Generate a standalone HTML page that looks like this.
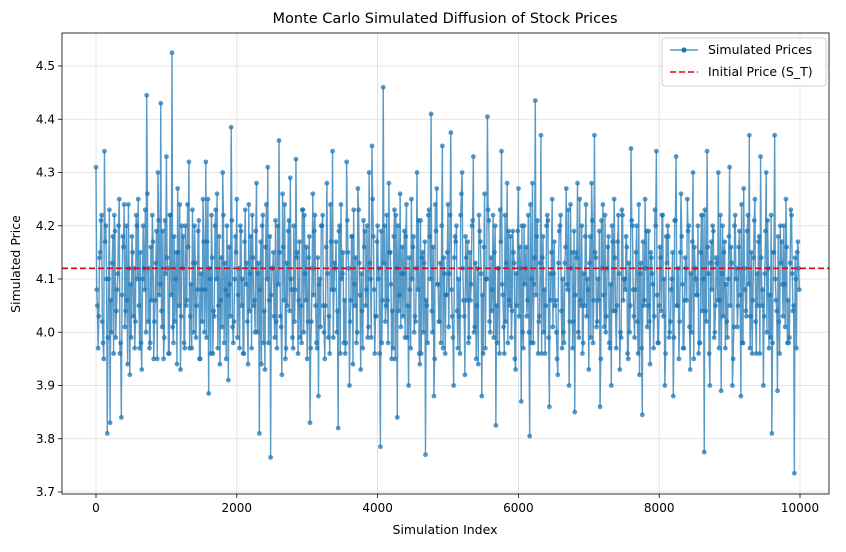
<!DOCTYPE html>
<html><head><meta charset="utf-8"><style>
body{margin:0;background:#fff;font-family:"Liberation Sans","DejaVu Sans",sans-serif;}
</style></head><body>
<svg id="chart" width="846" height="547" xmlns="http://www.w3.org/2000/svg" font-family="DejaVu Sans, Liberation Sans, sans-serif"></svg>
<script>
const categoriesStep = 10;
const seriesValuesA = [
4.31,4.03,4.22,4.34,3.81,3.83,4.18,3.99,4.2,3.84,4.24,4.06,3.92,4.15,4.02,4.25,3.98,4.12,4.445,3.97,4.22,4.06,4.3,4.43,3.95,
4.33,3.96,4.525,4.02,4.27,3.93,4.18,4.05,4.32,3.97,4.2,4.08,3.95,4.25,4.32,3.885,4.22,4.03,4.26,3.94,4.3,4.08,3.91,4.385,4.02,
4.25,3.97,4.1,4.23,3.94,4.18,4.05,4.28,3.81,4.2,3.93,4.31,3.765,4.15,4.02,4.36,3.92,4.24,4.05,4.29,3.97,4.325,4.06,3.98,4.22,
3.95,3.83,4.26,4.05,3.88,4.2,4.0,4.28,3.96,4.34,4.12,3.82,4.24,3.98,4.32,3.9,4.18,4.05,4.27,3.93,4.21,4.08,4.3,4.35,3.96,
4.2,3.785,4.46,4.05,4.28,3.95,4.23,3.84,4.26,4.03,4.18,3.9,4.25,4.0,4.3,3.94,4.15,3.77,4.22,4.41,3.88,4.27,4.02,4.35,3.96,
4.24,4.375,3.9,4.2,4.03,4.3,3.92,4.17,4.06,4.33,3.95,4.22,3.88,4.26,4.405,4.0,4.22,3.825,4.12,4.34,3.96,4.28,4.05,4.19,3.93,
4.27,3.87,4.2,4.03,3.805,4.28,4.435,3.96,4.37,4.0,4.2,3.86,4.25,4.05,3.92,4.22,4.0,4.27,3.9,4.15,3.85,4.28,4.06,3.98,4.24,
3.93,4.28,4.37,4.02,3.86,4.24,4.0,4.18,3.9,4.25,4.05,3.93,4.22,4.08,3.95,4.345,4.03,4.2,3.92,3.845,4.25,4.05,4.15,3.97,4.34,
4.05,4.22,3.9,4.2,4.02,3.88,4.33,3.95,4.18,4.06,4.25,3.93,4.3,4.1,3.96,4.22,3.775,4.34,3.9,4.2,4.05,4.3,3.89,4.15,4.02,
4.31,3.9,4.22,4.05,3.88,4.27,4.03,4.37,3.96,4.25,4.05,4.33,3.9,4.3,3.97,3.81,4.37,3.89,4.2,4.03,4.25,3.98,4.22,3.735,4.15
];
const seriesValuesB = [
4.05,4.15,3.98,4.2,4.1,4.0,4.22,4.08,3.96,4.18,4.04,4.24,3.99,4.12,4.2,3.97,4.1,4.23,4.02,4.16,3.95,4.19,4.07,4.01,4.21,
4.12,4.22,3.98,4.15,4.05,4.2,3.97,4.24,4.03,4.13,3.99,4.21,4.08,4.0,4.17,4.1,3.96,4.23,4.05,4.14,3.98,4.2,4.09,4.01,4.18,
4.07,4.19,3.96,4.13,4.04,4.22,4.0,4.11,4.17,3.98,4.24,4.06,4.12,3.99,4.2,4.03,4.16,3.97,4.21,4.08,4.02,4.15,3.99,4.23,4.06,
4.14,4.02,4.19,3.97,4.1,4.22,4.05,3.99,4.17,4.08,4.0,4.2,4.11,3.96,4.15,4.06,4.23,3.98,4.13,4.04,4.19,3.99,4.1,4.18,4.03,
4.12,3.98,4.2,4.06,4.15,3.97,4.22,4.04,4.11,4.19,3.99,4.08,4.16,4.02,4.21,3.96,4.13,4.05,4.18,4.0,4.24,4.09,3.98,4.14,4.07,
4.11,4.03,4.18,3.97,4.22,4.06,4.14,3.99,4.2,4.01,4.12,4.17,3.96,4.1,4.21,4.04,4.15,3.98,4.23,4.07,4.02,4.19,3.99,4.13,4.05,
4.16,4.0,4.12,4.22,3.98,4.09,4.18,4.03,4.14,3.96,4.21,4.06,4.11,4.0,4.19,3.97,4.13,4.08,4.24,4.02,4.15,3.99,4.2,4.05,4.1,
4.18,3.98,4.14,4.06,4.21,4.01,4.12,3.97,4.17,4.04,4.22,3.99,4.1,4.16,4.0,4.2,4.08,3.96,4.13,4.05,4.19,4.02,4.11,4.23,3.98,
4.14,4.03,4.18,3.99,4.1,4.21,4.05,4.15,3.97,4.12,4.2,4.0,4.16,4.07,3.98,4.22,4.04,4.11,4.17,3.99,4.13,4.06,4.2,3.97,4.1,
4.16,4.01,4.12,4.19,3.98,4.08,4.22,4.03,4.14,3.96,4.18,4.05,4.11,4.21,3.99,4.15,4.06,4.02,4.17,4.09,3.98,4.13,4.04,4.1,4.12
];
const seriesValuesC = [
4.08,3.97,4.14,4.21,4.02,3.95,4.17,4.1,3.99,4.23,4.06,4.13,3.96,4.19,4.04,4.11,4.25,3.98,4.07,4.16,4.01,4.2,3.94,4.12,4.09,
4.18,4.03,3.97,4.22,4.1,4.05,4.15,3.93,4.2,4.08,4.0,4.26,4.12,3.98,4.06,4.17,4.02,4.13,3.95,4.21,4.09,4.04,4.19,3.99,4.11,
4.14,3.96,4.22,4.07,4.01,4.18,4.1,3.94,4.15,4.24,4.03,4.12,3.98,4.2,4.06,4.16,3.97,4.09,4.23,4.0,4.13,4.05,4.19,3.95,4.11,
4.02,4.17,4.08,3.99,4.25,4.12,3.96,4.14,4.04,4.2,4.1,3.97,4.18,4.06,4.01,4.22,4.13,3.95,4.07,4.16,4.03,4.21,3.98,4.1,4.15,
3.99,4.12,4.2,4.05,3.96,4.17,4.09,4.02,4.24,4.11,3.97,4.14,4.06,4.19,4.0,4.13,4.08,3.94,4.22,4.04,4.16,4.1,3.98,4.18,4.07,
4.12,4.03,4.21,3.97,4.09,4.15,4.01,4.26,4.06,3.95,4.13,4.19,4.04,4.1,3.99,4.2,4.08,4.14,3.96,4.17,4.05,4.23,4.0,4.11,4.16,
4.02,4.18,3.97,4.12,4.07,4.22,3.98,4.14,4.09,4.01,4.2,4.05,3.95,4.16,4.11,4.03,4.24,4.08,3.99,4.13,4.17,4.04,4.19,3.96,4.1,
4.15,4.06,3.98,4.21,4.12,4.02,4.18,3.94,4.09,4.14,4.0,4.23,4.07,4.11,3.97,4.16,4.05,4.2,4.01,4.13,3.99,4.25,4.08,4.03,4.17,
4.1,3.96,4.19,4.06,4.13,4.02,4.22,3.98,4.15,4.09,4.04,4.18,3.95,4.12,4.2,4.07,4.01,4.16,4.11,3.99,4.24,4.05,4.14,3.97,4.1,
4.18,4.03,4.12,4.08,3.96,4.21,4.14,4.0,4.17,4.06,3.98,4.23,4.1,4.04,4.16,3.95,4.19,4.09,4.02,4.13,4.2,3.97,4.11,4.07,4.15,
4.01,4.22,4.08,3.99,4.14,4.17,4.04,4.1,3.96,4.26,4.12,4.03,4.18,4.06,3.98,4.15,4.09,4.21,4.0,4.13,4.05,3.94,4.19,4.11,4.07,
4.16,3.97,4.1,4.23,4.02,4.14,4.08,3.99,4.2,4.05,4.12,3.96,4.17,4.09,4.01,4.22,4.13,3.98,4.06,4.18,4.04,4.15,3.95,4.11,4.19,
4.03,4.12,4.2,3.97,4.09,4.16,4.06,4.0,4.24,4.1,3.98,4.14,4.07,4.21,4.02,4.13,3.96,4.18,4.08,4.05,4.22,3.99,4.11,4.15,4.01,
4.17,4.06,3.95,4.13,4.2,4.04,4.1,3.98,4.16,4.09,4.23,4.02,4.12,3.97,4.19,4.07,4.14,4.0,4.25,4.05,3.96,4.11,4.18,4.03,4.08,
4.13,3.99,4.21,4.06,4.15,4.01,4.1,4.19,3.95,4.12,4.07,4.22,4.03,4.16,3.98,4.09,4.2,4.04,4.14,3.97,4.17,4.11,4.0,4.23,4.06,
4.1,4.18,3.96,4.13,4.05,4.21,4.08,3.99,4.15,4.02,4.24,4.11,3.97,4.17,4.06,4.12,4.01,4.19,3.94,4.14,4.09,4.03,4.2,4.07,3.98,
4.16,4.04,4.22,4.1,3.96,4.13,4.18,4.0,4.08,4.15,3.99,4.21,4.05,4.12,4.02,4.26,4.09,3.97,4.14,4.06,4.19,4.01,4.11,4.17,3.95,
4.12,4.07,4.2,3.98,4.15,4.04,4.1,4.23,4.02,4.16,3.96,4.13,4.08,4.19,4.0,4.14,4.06,3.97,4.22,4.11,4.03,4.17,4.09,3.99,4.18,
4.05,4.13,3.95,4.2,4.1,4.01,4.16,4.07,4.24,3.98,4.12,4.04,4.19,4.09,3.97,4.15,4.06,4.21,4.02,4.11,4.17,3.96,4.14,4.08,4.03,
4.19,4.0,4.12,4.07,4.22,3.98,4.15,4.1,4.04,4.18,3.96,4.13,4.09,4.2,4.01,4.16,4.06,3.99,4.23,4.11,4.05,4.14,3.97,4.17,4.08
];
const initialPrice = [4.12];
const xTicks = [0,2000,4000,6000,8000,10000];
const yTicks = [3.7,3.8,3.9,4.0,4.1,4.2,4.3,4.4,4.5];

const seriesValues=[];
seriesValuesA.forEach((v,i)=>{
  seriesValues.push(v);
  if(2*i<seriesValuesC.length)seriesValues.push(seriesValuesC[2*i]);
  if(i<seriesValuesB.length)seriesValues.push(seriesValuesB[i]);
  if(2*i+1<seriesValuesC.length)seriesValues.push(seriesValuesC[2*i+1]);
});

const L=62,R=829,T=33,B=494;
const xs=v=>96+v*0.0704;
const ys=v=>279-(v-4.1)*532.5;
const svg=document.getElementById('chart');
const NS='http://www.w3.org/2000/svg';
function mk(tag,attrs,parent){const e=document.createElementNS(NS,tag);for(const k in attrs)e.setAttribute(k,attrs[k]);(parent||svg).appendChild(e);return e;}

const grid=mk('g',{});


xTicks.forEach(t=>{mk('line',{x1:xs(t),x2:xs(t),y1:T,y2:B,stroke:'#dcdcdc','stroke-width':0.8},grid);});
yTicks.forEach(t=>{mk('line',{x1:L,x2:R,y1:ys(t),y2:ys(t),stroke:'#dcdcdc','stroke-width':0.8},grid);});

const series=mk('g',{});


const pts=seriesValues.map((v,i)=>xs(i*categoriesStep).toFixed(2)+','+ys(v).toFixed(2)).join(' ');
mk('polyline',{points:pts,fill:'none',stroke:'#1f77b4','stroke-opacity':0.75,'stroke-width':1.4},series);
seriesValues.forEach((v,i)=>{
  const c=mk('circle',{cx:xs(i*categoriesStep),cy:ys(v),r:2.4,fill:'#1f77b4','fill-opacity':0.75},series);
  
  
});

const ref=mk('line',{x1:L,x2:R,y1:ys(initialPrice[0]),y2:ys(initialPrice[0]),stroke:'#e8000b','stroke-width':1.6,'stroke-dasharray':'6,3'});



const frame=mk('rect',{x:L,y:T,width:R-L,height:B-T,fill:'none',stroke:'#000','stroke-width':0.8});



const xa=mk('g',{'font-size':12});


xTicks.forEach(t=>{mk('line',{x1:xs(t),x2:xs(t),y1:B,y2:B+4,stroke:'#000','stroke-width':0.8},xa);
  const tx=mk('text',{x:xs(t),y:B+18,'text-anchor':'middle'},xa);tx.textContent=t;
  
  });
const ya=mk('g',{'font-size':12});


yTicks.forEach(t=>{mk('line',{x1:L-4,x2:L,y1:ys(t),y2:ys(t),stroke:'#000','stroke-width':0.8},ya);
  const tx=mk('text',{x:L-7,y:ys(t)+4,'text-anchor':'end'},ya);tx.textContent=t.toFixed(1);
  
  });

const title=mk('text',{x:445,y:23,'text-anchor':'middle','font-size':14.5});title.textContent='Monte Carlo Simulated Diffusion of Stock Prices';


const xl=mk('text',{x:445,y:534,'text-anchor':'middle','font-size':12.5});xl.textContent='Simulation Index';


const yl=mk('text',{x:20,y:264,'text-anchor':'middle','font-size':12.5,transform:'rotate(-90 20 264)'});yl.textContent='Simulated Price';



const lg=mk('g',{'font-size':12.5});


mk('rect',{x:662,y:38,width:164,height:48,rx:3,fill:'#fff','fill-opacity':0.85,stroke:'#d0d0d0'},lg);
mk('line',{x1:670,x2:698,y1:50,y2:50,stroke:'#1f77b4','stroke-opacity':0.75,'stroke-width':1.5},lg);
mk('circle',{cx:684,cy:50,r:2.6,fill:'#1f77b4'},lg);
const l1=mk('text',{x:708,y:54},lg);l1.textContent='Simulated Prices';


mk('line',{x1:670,x2:698,y1:72,y2:72,stroke:'#e8000b','stroke-width':1.6,'stroke-dasharray':'6,3'},lg);
const l2=mk('text',{x:708,y:76},lg);l2.textContent='Initial Price (S_T)';


</script>
</body></html>
